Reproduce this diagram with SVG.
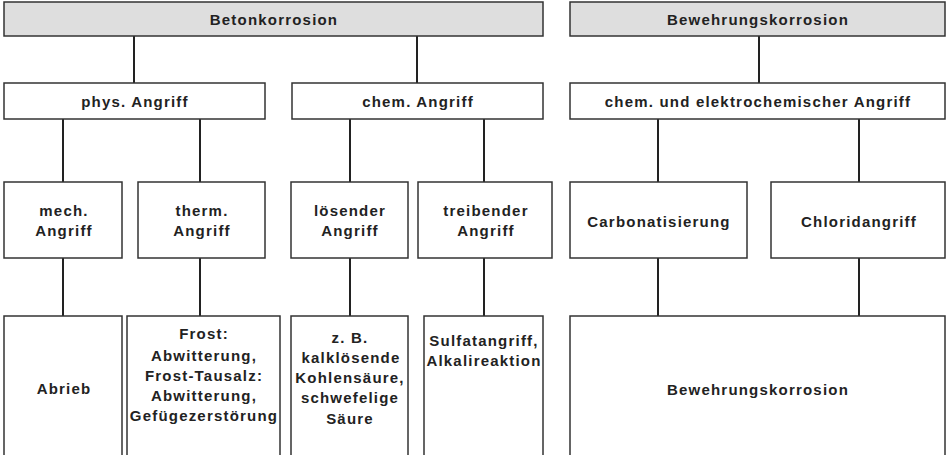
<svg xmlns="http://www.w3.org/2000/svg" width="947" height="455" viewBox="0 0 947 455">
<style>
.box{fill:#fff;stroke:#333;stroke-width:1.5}
.top{fill:#dedede;stroke:#333;stroke-width:1.5}
.t{font-family:"Liberation Sans",Arial,sans-serif;font-weight:bold;font-size:15px;letter-spacing:1.2px;fill:#222;text-anchor:middle}
.c line{stroke:#222;stroke-width:2}
</style>
<rect width="947" height="455" fill="#fff"/>
<g class="c" id="connectors">
<line x1="134" y1="36" x2="134" y2="83"/>
<line x1="417" y1="36" x2="417" y2="83"/>
<line x1="759" y1="36" x2="759" y2="83"/>
<line x1="63" y1="119" x2="63" y2="182"/>
<line x1="200" y1="119" x2="200" y2="182"/>
<line x1="350" y1="119" x2="350" y2="182"/>
<line x1="484" y1="119" x2="484" y2="182"/>
<line x1="658" y1="119" x2="658" y2="182"/>
<line x1="859" y1="119" x2="859" y2="182"/>
<line x1="63" y1="258" x2="63" y2="316"/>
<line x1="200" y1="258" x2="200" y2="316"/>
<line x1="350" y1="258" x2="350" y2="316"/>
<line x1="484" y1="258" x2="484" y2="316"/>
<line x1="658" y1="258" x2="658" y2="316"/>
<line x1="859" y1="258" x2="859" y2="316"/>
</g>
<g id="betonkorrosion"><rect class="top" x="4" y="2" width="539" height="34"/><text class="t" x="274" y="25">Betonkorrosion</text></g>
<g id="bewehrungskorrosion-top"><rect class="top" x="570" y="2" width="375" height="34"/><text class="t" x="758" y="25">Bewehrungskorrosion</text></g>
<g id="phys"><rect class="box" x="4" y="83" width="261" height="36"/><text class="t" x="135" y="107">phys. Angriff</text></g>
<g id="chem"><rect class="box" x="292" y="83" width="251" height="36"/><text class="t" x="418" y="107">chem. Angriff</text></g>
<g id="elektro"><rect class="box" x="570" y="83" width="375" height="36"/><text class="t" x="758" y="107">chem. und elektrochemischer Angriff</text></g>
<g id="mech"><rect class="box" x="4" y="182" width="118" height="76"/><text class="t" x="64" y="216">mech.</text><text class="t" x="64" y="236">Angriff</text></g>
<g id="therm"><rect class="box" x="138" y="182" width="127" height="76"/><text class="t" x="202" y="216">therm.</text><text class="t" x="202" y="236">Angriff</text></g>
<g id="loesend"><rect class="box" x="291" y="182" width="117" height="76"/><text class="t" x="350" y="216">lösender</text><text class="t" x="350" y="236">Angriff</text></g>
<g id="treibend"><rect class="box" x="418" y="182" width="134" height="76"/><text class="t" x="486" y="216">treibender</text><text class="t" x="486" y="236">Angriff</text></g>
<g id="carbonat"><rect class="box" x="570" y="182" width="177" height="76"/><text class="t" x="659" y="227">Carbonatisierung</text></g>
<g id="chlorid"><rect class="box" x="771" y="182" width="174" height="76"/><text class="t" x="859" y="227">Chloridangriff</text></g>
<g id="abrieb"><rect class="box" x="4" y="316" width="118" height="150"/><text class="t" x="64" y="394">Abrieb</text></g>
<g id="frost"><rect class="box" x="127" y="316" width="153" height="150"/>
<text class="t" x="204" y="339">Frost:</text>
<text class="t" x="204" y="361">Abwitterung,</text>
<text class="t" x="204" y="381">Frost-Tausalz:</text>
<text class="t" x="204" y="401">Abwitterung,</text>
<text class="t" x="204" y="421">Gefügezerstörung</text></g>
<g id="zb"><rect class="box" x="291" y="316" width="117" height="150"/>
<text class="t" x="350" y="343">z. B.</text>
<text class="t" x="351" y="363">kalklösende</text>
<text class="t" x="350" y="383">Kohlensäure,</text>
<text class="t" x="350" y="403">schwefelige</text>
<text class="t" x="350" y="424">Säure</text></g>
<g id="sulfat"><rect class="box" x="424" y="316" width="119" height="150"/>
<text class="t" x="484" y="346">Sulfatangriff,</text>
<text class="t" x="484" y="366">Alkalireaktion</text></g>
<g id="bewehrungskorrosion-bottom"><rect class="box" x="570" y="316" width="375" height="150"/><text class="t" x="758" y="395">Bewehrungskorrosion</text></g>
</svg>
